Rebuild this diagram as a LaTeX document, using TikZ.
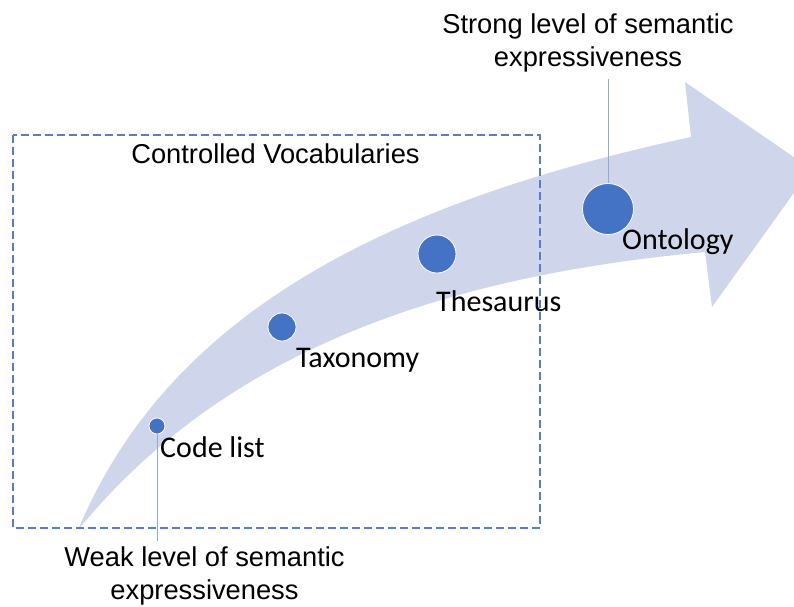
\documentclass[tikz,border=0pt]{standalone}
\usepackage{fontspec}
\setmainfont{Liberation Sans}
\newfontfamily\calfont{Carlito}
\definecolor{bandfill}{HTML}{CFD5EA}
\definecolor{dotblue}{HTML}{4472C4}
\definecolor{boxblue}{HTML}{5A7EC4}
\definecolor{linkblue}{HTML}{8FAADC}
\begin{document}
\begin{tikzpicture}[x=1pt,y=-1pt,
  dot/.style={circle,fill=dotblue,draw=white,line width=0.8pt,inner sep=0pt,minimum size=#1},
  stagelbl/.style={inner sep=0pt,font=\calfont\fontsize{30}{36}\selectfont},
  arial/.style={inner sep=0pt,font=\fontsize{27.3}{33}\selectfont,align=center},
  link/.style={draw=linkblue,line width=1pt}]
\useasboundingbox (0,0) rectangle (794,606);
\begin{scope}
\clip (0,0) rectangle (794,606);
\fill[bandfill] (78,530) .. controls (168,314) and (385,203) .. (691,137)
  -- (685,82) -- (811,169) -- (712,307) -- (705,252)
  .. controls (445,276) and (225,350) .. (78,530) -- cycle;
\end{scope}
\draw[boxblue,line width=1.2pt,dash pattern=on 8pt off 4pt] (13,135) rectangle (540,528);
\node[arial,anchor=base] (cv) at (275.5,163) {Controlled Vocabularies};
\node[dot=16pt] (code) at (157,426) {};
\node[dot=28pt] (taxo) at (282,327) {};
\node[dot=38pt] (thes) at (437,254) {};
\node[dot=51pt] (onto) at (608,209) {};
\node[stagelbl,anchor=base west] (codet) at (160,457) {Code list};
\node[stagelbl,anchor=base west] (taxot) at (296,367) {Taxonomy};
\node[stagelbl,anchor=base west] (thest) at (436,311) {Thesaurus};
\node[stagelbl,anchor=base west] (ontot) at (622,249) {Ontology};
\node[arial,anchor=north] (weak) at (204.5,547) {Weak level of semantic\\expressiveness};
\node[arial,anchor=north] (strong) at (588,14) {Strong level of semantic\\expressiveness};
\draw[link,shorten >=6pt] (code.south) -- (code.south |- weak.north);
\draw[link,shorten >=6pt] (onto.north) -- (onto.north |- strong.south);
\end{tikzpicture}
\end{document}
